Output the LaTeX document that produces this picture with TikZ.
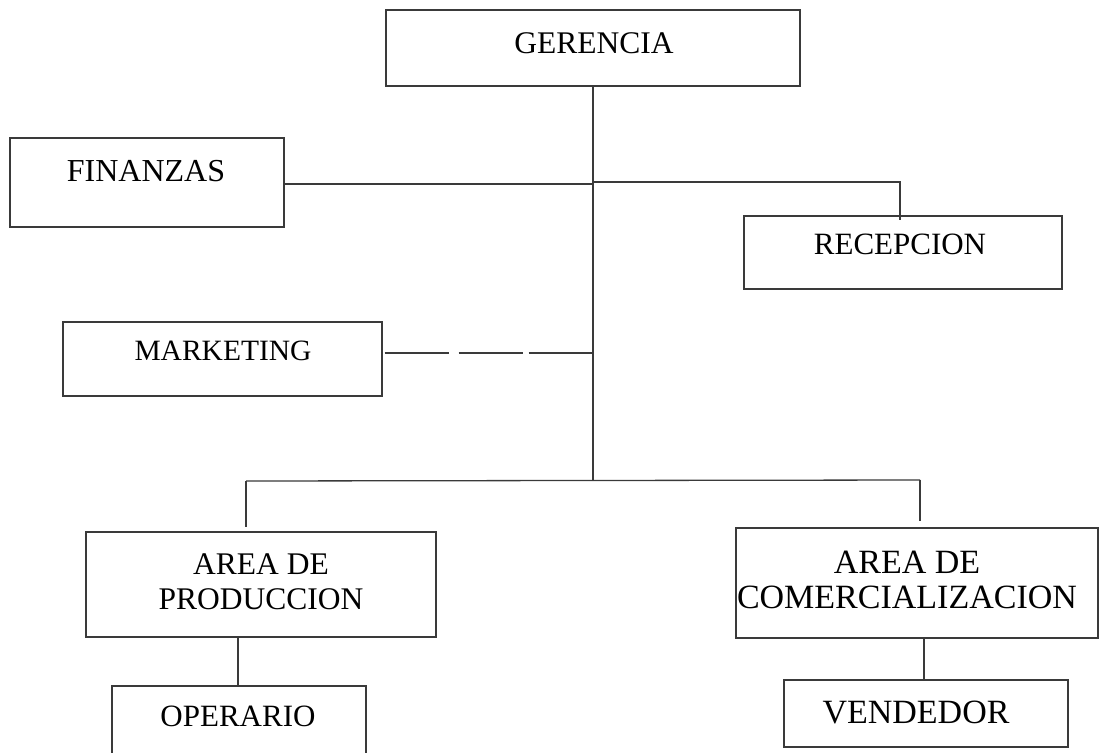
\documentclass[tikz,border=0pt]{standalone}
\usepackage{fontspec}
\setmainfont{Liberation Serif}
\definecolor{ln}{HTML}{3A3A3A}
\begin{document}
\begin{tikzpicture}[x=1pt,y=-1pt,
  box/.style={draw=ln,line width=1.3pt,rectangle,inner sep=0pt},
  txt/.style={inner sep=0pt,align=center},
  fs/.style={font=\fontsize{#1}{35}\selectfont},
  conn/.style={draw=ln,line width=1.3pt},
  mkdash/.style={conn,dash pattern=on 64pt off 10pt on 64pt off 6pt}]
\useasboundingbox[fill=white] (0,0) rectangle (1099,752);
% boxes
\node[box,minimum width=414pt,minimum height=76pt] (ger) at (593,48) {};
\node[box,minimum width=274pt,minimum height=89pt] (fin) at (147,182.5) {};
\node[box,minimum width=318pt,minimum height=73pt] (rec) at (903,252.5) {};
\node[box,minimum width=319pt,minimum height=74pt] (mkt) at (222.5,359) {};
\node[box,minimum width=350pt,minimum height=105pt] (prod) at (261,584.5) {};
\node[box,minimum width=362pt,minimum height=110pt] (com) at (917,583) {};
\node[box,minimum width=254pt,minimum height=84pt] (ope) at (239,728) {};
\node[box,minimum width=284pt,minimum height=67pt] (ven) at (926,713.5) {};
% texts
\node[txt,fs=31.5] (tger) at (594,43) {GERENCIA};
\node[txt,fs=32] (tfin) at (146,171) {FINANZAS};
\node[txt,fs=31] (trec) at (900,244) {RECEPCION};
\node[txt,fs=29.5] (tmkt) at (223,351) {MARKETING};
\node[txt,fs=31.5] (tprod) at (261,582) {AREA DE\\PRODUCCION};
\node[txt,fs=34] (tcom) at (907,580) {AREA DE\\COMERCIALIZACION};
\node[txt,fs=31] (tope) at (238,716) {OPERARIO};
\node[txt,fs=34] (tven) at (916,712) {VENDEDOR};
% junctions
\coordinate (hb) at (593,481);
\coordinate (jf) at (593,184);
\coordinate (jr) at (593,182);
\coordinate (rt) at (900,220);
\coordinate (jm) at (593,353);
\coordinate (hl) at (246,481);
\coordinate (hr) at (920,480);
% connectors
\draw[conn] (ger.south) -- (hb);
\draw[conn] (jf -| fin.east) -- (jf);
\draw[conn] (jr) -| (rt);
\draw[mkdash] ([xshift=2pt]jm -| mkt.east) -- (jm);
\draw[conn] (hl) -- (hr);
\draw[conn] (hl) -- ([yshift=4pt]hl |- prod.north);
\draw[conn] (hr) -- ([yshift=6pt]hr |- com.north);
\draw[conn] ([xshift=-23pt]prod.south) -- ([xshift=-23pt]prod.south |- ope.north);
\draw[conn] ([xshift=7pt]com.south) -- ([xshift=7pt]com.south |- ven.north);
\end{tikzpicture}
\end{document}
